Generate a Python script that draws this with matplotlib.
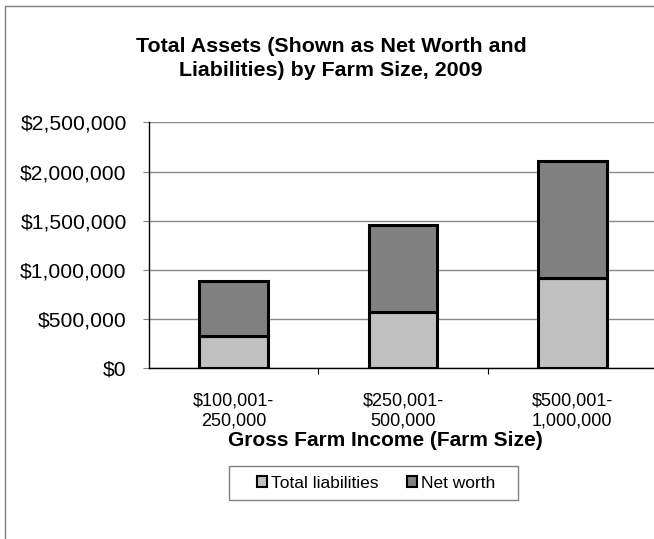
import matplotlib
matplotlib.use("Agg")
import matplotlib.pyplot as plt
from matplotlib.patches import Rectangle
from matplotlib.ticker import FuncFormatter, FixedLocator

plt.rcParams['font.family'] = ['Liberation Sans', 'DejaVu Sans']

categories = ["$100,001-\n250,000", "$250,001-\n500,000", "$500,001-\n1,000,000"]
total_liabilities = [325000, 575000, 918000]
net_worth = [562000, 881000, 1186000]
series_names = ["Total liabilities", "Net worth"]
colors = ["#C0C0C0", "#808080"]
yticks = [0, 500000, 1000000, 1500000, 2000000, 2500000]

W, H = 654, 539
fig = plt.figure(figsize=(W / 100, H / 100), dpi=100)

# chart area border (cropped on right/bottom)
fig.patches.append(Rectangle((4.5 / W, -0.1), 2, (H - 6) / H + 0.1, transform=fig.transFigure,
                             fill=False, edgecolor="#808080", linewidth=1.0))

ax = fig.add_axes([149 / W, (H - 368.3) / H, 508 / W, 246 / H])
x = list(range(len(categories)))
ax.bar(x, total_liabilities, width=0.405, color=colors[0], edgecolor="black",
       linewidth=2.2, label=series_names[0], zorder=3)
ax.bar(x, net_worth, width=0.405, bottom=total_liabilities, color=colors[1],
       edgecolor="black", linewidth=2.2, label=series_names[1], zorder=3)

ax.set_xlim(-0.5, 2.5)
ax.set_ylim(0, 2500000)
ax.yaxis.set_major_locator(FixedLocator(yticks))
ax.yaxis.set_major_formatter(FuncFormatter(lambda v, p: "${:,.0f}".format(v)))
ax.grid(axis="y", color="#888888", linewidth=1.0, zorder=0)
ax.tick_params(axis="y", length=4.5, width=0.8, color="#808080", labelsize=15.2, pad=11.5)

ax.set_xticks(x)
ax.set_xticklabels(categories, fontsize=13, linespacing=1.25)
ax.tick_params(axis="x", which="major", length=0, pad=17.3)
ax.xaxis.set_minor_locator(FixedLocator([0.5, 1.5]))
ax.tick_params(axis="x", which="minor", length=4.5, width=0.8, color="black")

for s in ["top", "right"]:
    ax.spines[s].set_visible(False)
ax.spines["left"].set_color("black")
ax.spines["bottom"].set_color("black")
ax.spines["left"].set_linewidth(1.0)
ax.spines["bottom"].set_linewidth(1.0)

fig.text(331 / W, 1 - 58.5 / H, "Total Assets (Shown as Net Worth and\nLiabilities) by Farm Size, 2009",
         ha="center", va="center", fontsize=15.4, fontweight="bold", linespacing=1.4)
fig.text(385 / W, 1 - 441 / H, "Gross Farm Income (Farm Size)", ha="center", va="center",
         fontsize=15, fontweight="bold")

# legend frame drawn to match the reference box
fig.patches.append(Rectangle((229 / W, 1 - 500 / H), (518 - 229) / W, 34 / H,
                             transform=fig.transFigure, fill=True, facecolor="white",
                             edgecolor="#808080", linewidth=1.0, zorder=1))
handles, labels = ax.get_legend_handles_labels()
leg = fig.legend(handles, labels, loc="center", bbox_to_anchor=(376 / W, 1 - 483 / H),
                 ncol=2, fontsize=12.5, frameon=False,
                 handlelength=0.6, handleheight=0.6, handletextpad=0.2, columnspacing=1.65,
                 borderpad=0.3, borderaxespad=0)
leg.set_zorder(2)
for p in leg.get_patches():
    p.set_linewidth(1.5)

fig.savefig("out.png", dpi=100)
